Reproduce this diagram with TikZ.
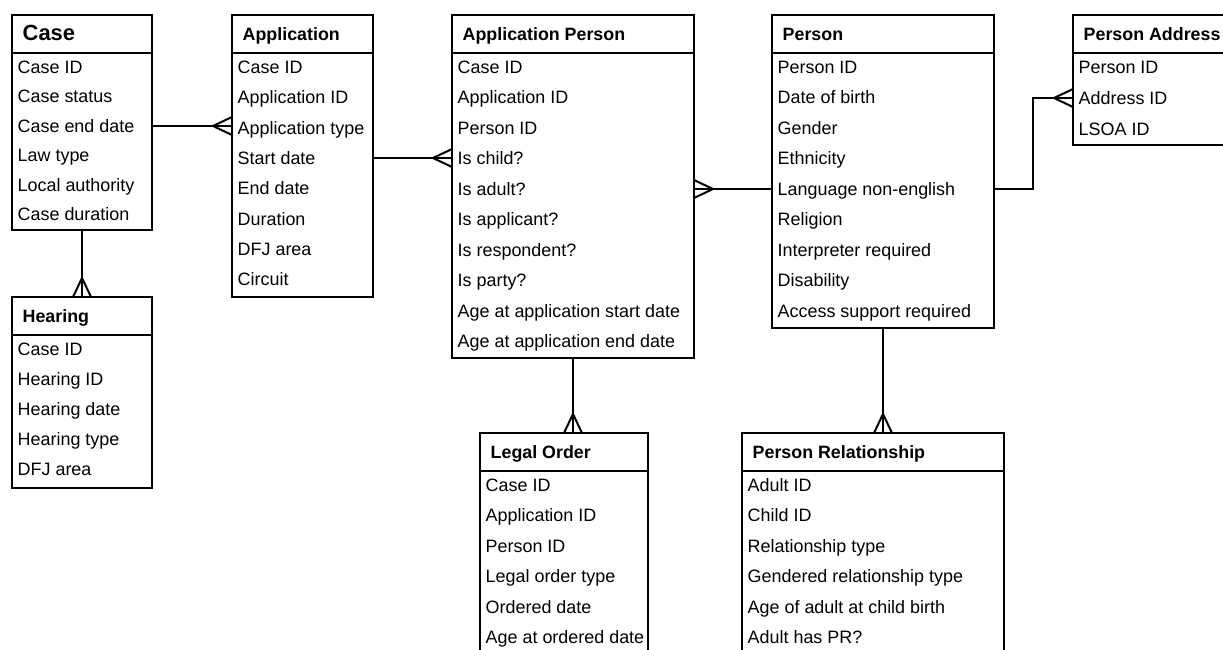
\documentclass[tikz,border=0pt]{standalone}
\usepackage{fontspec}
\setmainfont{Liberation Sans}
\usetikzlibrary{calc,decorations.markings}

\tikzset{
  boxline/.style={draw=black, line width=2bp},
  hdr/.style={boxline, minimum height=38bp, inner sep=0pt, outer sep=0pt},
  body/.style={boxline, inner sep=0pt, outer sep=0pt},
  ttl/.style={anchor=west, inner sep=0pt, text height=12.8pt, text depth=0pt,
              font=\fontsize{17.9}{20}\selectfont\bfseries},
  row/.style={anchor=west, inner sep=0pt, text height=12.9pt, text depth=0pt,
              font=\fontsize{18}{20}\selectfont, text=black},
  rel/.style={draw=black, line width=2bp},
  % crow's foot at the end of the connector
  many/.style={postaction={decorate}, decoration={markings,
    mark=at position 1 with {
      \draw[line width=2bp, black] (-19bp,0bp) -- (0bp,9bp);
      \draw[line width=2bp, black] (-19bp,0bp) -- (0bp,-9bp);}}}
}

% #1 name, #2 x, #3 y, #4 width, #5 title, #6 row pitch, #7 body height, #8 rows
\newcommand\entity[8]{%
  \node[hdr, minimum width=#4bp, anchor=north west] (#1-h) at (#2,#3) {};
  \node[ttl] (#1-t) at ($(#1-h.west)+(10.5,0)$) {#5};
  \node[body, minimum width=#4bp, minimum height=#7bp, anchor=north west] (#1) at (#1-h.south west) {};
  \foreach \r [count=\i] in {#8}
    \node[row] (#1-\i) at ($(#1.north west)+(5.5,{14+#6*(\i-1)})$) {\r};
}

\begin{document}
\begin{tikzpicture}[x=1bp,y=-1bp]
\clip (0,0) rectangle (1223,650);
\fill[white] (0,0) rectangle (1223,650);

\entity{case}{12}{15}{140}{{\fontsize{22}{26}\selectfont Case}}{29.5}{177}
  {Case ID,Case status,Case end date,Law type,Local authority,Case duration}
\entity{app}{232}{15}{141}{Application}{30.3333}{244}
  {Case ID,Application ID,Application type,Start date,End date,Duration,DFJ area,Circuit}
\entity{ap}{452}{15}{242}{Application Person}{30.5}{305}
  {Case ID,Application ID,Person ID,Is child?,Is adult?,Is applicant?,Is respondent?,Is party?,Age at application start date,Age at application end date}
\entity{person}{772}{15}{222}{Person}{30.5}{275}
  {Person ID,Date of birth,Gender,Ethnicity,Language non-english,Religion,Interpreter required,Disability,Access support required}
\entity{pa}{1073}{15}{176}{Person Address}{31}{92}
  {Person ID,Address ID,LSOA ID}
\entity{hearing}{12}{297}{140}{Hearing}{30}{153}
  {Case ID,Hearing ID,Hearing date,Hearing type,DFJ area}
\entity{lo}{480}{433}{168}{Legal Order}{30.4}{190}
  {Case ID,Application ID,Person ID,Legal order type,Ordered date,Age at ordered date}
\entity{pr}{742}{433}{262}{Person Relationship}{30.4}{190}
  {Adult ID,Child ID,Relationship type,Gendered relationship type,Age of adult at child birth,Adult has PR?}

% relationships (crow's foot on the "many" side)
\draw[rel, many] (case.east |- case-3) -- (app.west |- case-3);
\draw[rel, many] (app.east |- app-4) -- (ap.west |- app-4);
\draw[rel, many] (person.west |- ap-5) -- (ap.east |- ap-5);
\path (pa.west |- pa-2) ++(-40,0) coordinate (pabend);
\draw[rel, many] (person.east |- person-5) -| (pabend) -- (pa.west |- pa-2);
\draw[rel, many] (case.south) -- (hearing-h.north);
\draw[rel, many] (ap.south) -- (ap.south |- lo-h.north);
\draw[rel, many] (person.south) -- (person.south |- pr-h.north);
\end{tikzpicture}
\end{document}
